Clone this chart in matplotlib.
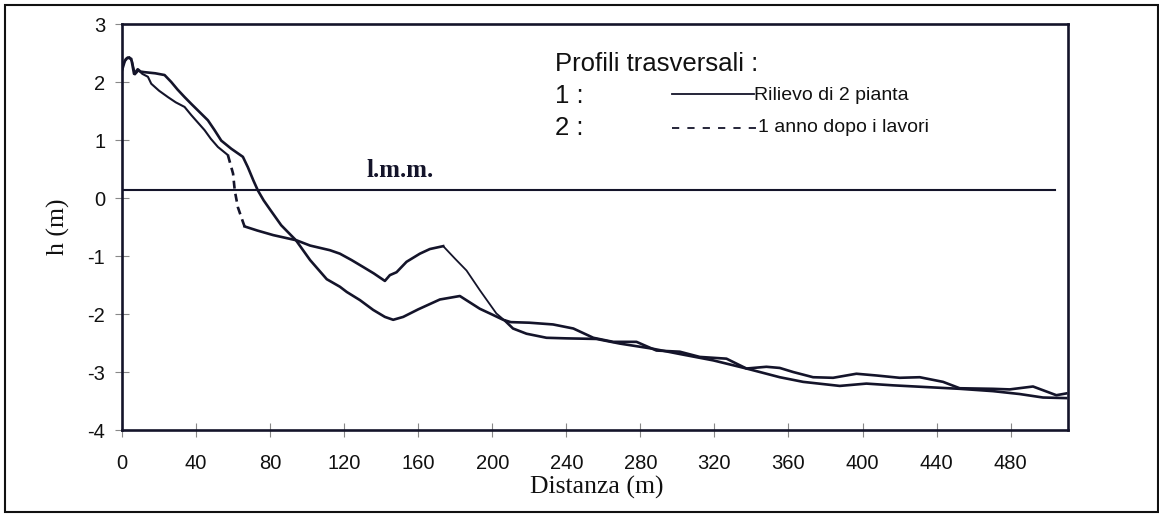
import numpy as np
import matplotlib
matplotlib.use("Agg")
import matplotlib.pyplot as plt
from matplotlib.lines import Line2D
from matplotlib.patches import Rectangle

# profilo 1 : rilievo di 2 pianta
dist_1 = [0, 1.5, 3, 5, 6.5, 8.5, 10, 12, 18, 23, 26.6, 30, 33.8, 37.5, 41, 46.4, 50,
          53.6, 59, 65.3, 68, 71, 73.4, 76.5, 80, 86, 94, 101.6, 110.6, 117.7, 121.4,
          128.5, 135.7, 142, 146.5, 151.9, 160, 171.7, 182.5, 193.3, 200, 205.9, 210,
          220, 232.8, 243.8, 254.6, 265.3, 272, 277.9, 288.7, 301.3, 312.1, 326.5,
          337.3, 348.1, 355.3, 362.5, 373.3, 384.1, 396.7, 407.5, 420.1, 430.9, 443.5,
          452.5, 470.5, 479.5, 492.1, 504.7, 510]
h_1 = [2.20, 2.36, 2.42, 2.40, 2.14, 2.22, 2.18, 2.17, 2.15, 2.12, 2.00, 1.87, 1.74,
       1.62, 1.51, 1.34, 1.17, 0.99, 0.85, 0.71, 0.53, 0.30, 0.13, -0.04, -0.20, -0.47,
       -0.73, -1.07, -1.40, -1.53, -1.62, -1.76, -1.93, -2.05, -2.10, -2.05, -1.92,
       -1.75, -1.69, -1.91, -2.01, -2.10, -2.14, -2.15, -2.18, -2.25, -2.41, -2.48,
       -2.48, -2.48, -2.63, -2.65, -2.74, -2.77, -2.94, -2.91, -2.93, -3.00, -3.09,
       -3.10, -3.03, -3.06, -3.10, -3.09, -3.17, -3.28, -3.29, -3.30, -3.25, -3.40,
       -3.37]

# profilo 2 : 1 anno dopo i lavori
dist_2 = [0, 2, 4, 5.5, 7, 9, 11, 14, 15.8, 20, 24.8, 29, 33.8, 37.4, 41, 44.6, 48,
          51.8, 57.2, 60, 60.9, 62.6, 65.3, 66.2, 73, 81.7, 94.3, 101.6, 112.3, 117.7,
          124, 130.3, 136, 142, 144.7, 148.3, 153.7, 160.9, 166.3, 173.5, 180, 186.1,
          193.3, 202.2, 207, 211.2, 218.5, 229.3, 240, 256.2, 268.9, 286.9, 301.3,
          319.4, 337.3, 344.5, 355.3, 367.9, 387.7, 402.1, 416.5, 434.5, 452.5, 470.5,
          484.9, 497.5, 510]
h_2 = [2.25, 2.40, 2.43, 2.35, 2.13, 2.20, 2.14, 2.09, 1.97, 1.85, 1.74, 1.65, 1.57,
       1.43, 1.30, 1.17, 1.02, 0.88, 0.74, 0.42, 0.13, -0.16, -0.41, -0.49, -0.56,
       -0.64, -0.73, -0.82, -0.90, -0.96, -1.07, -1.19, -1.30, -1.43, -1.33, -1.28,
       -1.10, -0.96, -0.88, -0.83, -1.05, -1.25, -1.59, -1.99, -2.12, -2.25, -2.34,
       -2.41, -2.42, -2.43, -2.51, -2.60, -2.69, -2.80, -2.94, -3.00, -3.09, -3.17,
       -3.24, -3.20, -3.23, -3.26, -3.29, -3.33, -3.38, -3.44, -3.45]

# tratti del profilo 2 senza rilievo (tratteggiato) e ricostruito (sottile)
tratto_mancante = (57.2, 66.2)
tratto_ricostruito = (173.5, 207)

# livello medio mare
lmm_dist = [0, 504]
lmm_h = [0.13, 0.13]

x_ticks = list(range(0, 481, 40))
y_ticks = list(range(-4, 4))

INK = '#14142a'
W, H = 1159, 514

plt.rcParams['font.family'] = ['Liberation Sans', 'DejaVu Sans']
plt.rcParams['axes.unicode_minus'] = False

fig = plt.figure(figsize=(W / 100, H / 100), dpi=100)


def fx(px):
    return px / W


def fy(py):
    return 1 - py / H


ax = fig.add_axes([fx(122), fy(430), fx(1068) - fx(122), fy(24) - fy(430)])

ax.plot(dist_1, h_1, color=INK, lw=1.9, solid_joinstyle='round')

d2 = np.array(dist_2)
z2 = np.array(h_2)
m_a = d2 <= tratto_mancante[0]
m_b = (d2 >= tratto_mancante[0]) & (d2 <= tratto_mancante[1])
m_c = (d2 >= tratto_mancante[1]) & (d2 <= tratto_ricostruito[0])
m_d = (d2 >= tratto_ricostruito[0]) & (d2 <= tratto_ricostruito[1])
m_e = d2 >= tratto_ricostruito[1]
ax.plot(d2[m_a], z2[m_a], color=INK, lw=1.5)
ax.plot(d2[m_b], z2[m_b], color=INK, lw=1.9, dashes=(3, 2))
ax.plot(d2[m_c], z2[m_c], color=INK, lw=1.9)
ax.plot(d2[m_d], z2[m_d], color=INK, lw=1.3)
ax.plot(d2[m_e], z2[m_e], color=INK, lw=1.9)

ax.plot(lmm_dist, lmm_h, color=INK, lw=1.5)
ax.text(150, 0.47, 'l.m.m.', family='Liberation Serif', fontweight='bold',
        fontsize=18, ha='center', va='center', color=INK)

ax.set_xlim(0, 511)
ax.set_ylim(-4, 3)
ax.set_xticks(x_ticks)
ax.set_yticks(y_ticks)
ax.tick_params(direction='inout', length=10, width=0.8, color='#888888',
               labelsize=14.5, labelcolor='#111111')
ax.tick_params(axis='x', pad=12)
ax.tick_params(axis='y', pad=7)
for s in ax.spines.values():
    s.set_linewidth(1.9)
    s.set_color(INK)

fig.text(fx(597), fy(487), 'Distanza (m)', family='Liberation Serif', fontsize=18.5,
         ha='center', va='center', color='#111111')
fig.text(fx(58), fy(227), 'h (m)', family='Liberation Serif', fontsize=18.5,
         ha='center', va='center', rotation=90, color='#111111')

# legenda
fig.text(fx(555), fy(64), 'Profili trasversali :', fontsize=18.5, va='center',
         color='#111111')
fig.text(fx(555), fy(96), '1 :', fontsize=18.5, va='center', color='#111111')
fig.text(fx(555), fy(128), '2 :', fontsize=18.5, va='center', color='#111111')
fig.add_artist(Line2D([fx(672), fx(754)], [fy(94), fy(94)], color=INK, lw=1.3))
fig.add_artist(Line2D([fx(672), fx(757)], [fy(128), fy(128)], color=INK, lw=1.3,
                      dashes=(4, 4.5)))
fig.text(fx(754), fy(95), 'Rilievo di 2 pianta', fontsize=14, va='center',
         color='#111111')
fig.text(fx(758), fy(128), '1 anno dopo i lavori', fontsize=14, va='center',
         color='#111111')

# cornice esterna
fig.add_artist(Rectangle((fx(5), fy(512)), fx(1153), fy(5) - fy(512),
                         transform=fig.transFigure, fill=False, lw=1.5,
                         edgecolor='#111111'))

fig.savefig('out.png', dpi=100)
